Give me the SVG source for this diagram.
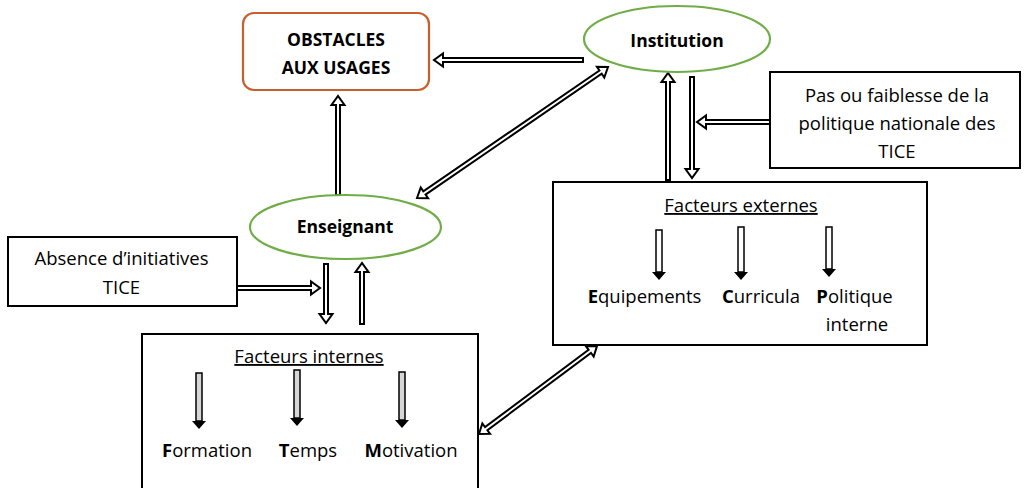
<svg xmlns="http://www.w3.org/2000/svg" width="1026" height="488" viewBox="0 0 1026 488">
<style>
.bg{fill:#ffffff}
.box{fill:#ffffff;stroke:#000000;stroke-width:2}
.obs{fill:#ffffff;stroke:#C65F2C;stroke-width:2.2}
.ell{fill:#ffffff;stroke:#70AD47;stroke-width:2.2}
.t{font-family:"Open Sans","Liberation Sans",sans-serif;font-size:18.5px;fill:#000000;text-anchor:middle}
.tb{font-family:"Open Sans","Liberation Sans",sans-serif;font-size:17.5px;font-weight:bold;fill:#000000;text-anchor:middle}
.b{font-weight:bold}
.u{text-decoration:underline}
.conn{fill:#ffffff;stroke:#000000;stroke-width:2;stroke-linejoin:miter}
.sh{fill:#ffffff;stroke:#000000;stroke-width:1.5}
.shg{fill:#d6d6d6;stroke:#000000;stroke-width:1.5}
.hd{fill:#000000}
</style>
<rect class="bg" x="0" y="0" width="1026" height="488"/>

<g id="connectors">
  <path class="conn" transform="translate(583,60) rotate(180)" d="M0,-2 H140 V-6.5 L149,0 L140,6.5 V2 H0 Z"/>
  <path class="conn" transform="translate(338,195) rotate(-90)" d="M0,-2 H90 V-6.5 L99,0 L90,6.5 V2 H0 Z"/>
  <path class="conn" transform="translate(417,198) rotate(-34.44)" d="M0,0 L9,-6.5 V-2 H222.6 V-6.5 L231.6,0 L222.6,6.5 V2 H9 V6.5 Z"/>
  <path class="conn" transform="translate(237,288)" d="M0,-2 H74 V-6.5 L83,0 L74,6.5 V2 H0 Z"/>
  <path class="conn" transform="translate(326,264) rotate(90)" d="M0,-2 H50 V-6.5 L59,0 L50,6.5 V2 H0 Z"/>
  <path class="conn" transform="translate(362,324) rotate(-90)" d="M0,-2 H52 V-6.5 L61,0 L52,6.5 V2 H0 Z"/>
  <path class="conn" transform="translate(479,434) rotate(-36.71)" d="M0,0 L9,-6.5 V-2 H138.2 V-6.5 L147.2,0 L138.2,6.5 V2 H9 V6.5 Z"/>
  <path class="conn" transform="translate(668,180) rotate(-90)" d="M0,-2 H98 V-6.5 L107,0 L98,6.5 V2 H0 Z"/>
  <path class="conn" transform="translate(692,77) rotate(90)" d="M0,-2 H92 V-6.5 L101,0 L92,6.5 V2 H0 Z"/>
  <path class="conn" transform="translate(770,122) rotate(180)" d="M0,-2 H64 V-6.5 L73,0 L64,6.5 V2 H0 Z"/>
</g>

<g id="obstacles">
  <rect class="obs" x="243" y="13" width="186" height="77" rx="11" ry="11"/>
  <text class="tb" x="336" y="46">OBSTACLES</text>
  <text class="tb" x="336" y="74">AUX USAGES</text>
</g>

<g id="institution">
  <ellipse class="ell" cx="677" cy="39" rx="93" ry="33"/>
  <text class="tb" x="677" y="47">Institution</text>
</g>

<g id="enseignant">
  <ellipse class="ell" cx="345.5" cy="227" rx="95.5" ry="32"/>
  <text class="tb" x="345" y="233">Enseignant</text>
</g>

<g id="absence">
  <rect class="box" x="8" y="237" width="229" height="69"/>
  <text class="t" x="121.5" y="265">Absence d’initiatives</text>
  <text class="t" x="121.5" y="294">TICE</text>
</g>

<g id="politique-nationale">
  <rect class="box" x="770" y="72" width="250" height="96"/>
  <text class="t" x="897" y="102">Pas ou faiblesse de la</text>
  <text class="t" x="897" y="130">politique nationale des</text>
  <text class="t" x="897" y="158">TICE</text>
</g>

<g id="facteurs-externes">
  <rect class="box" x="553" y="182" width="374" height="163"/>
  <text class="t u" x="741" y="212">Facteurs externes</text>
  <g transform="translate(659,230)"><rect class="sh" x="-3" y="0" width="6" height="42"/><polygon class="hd" points="-7,42 7,42 0,50"/></g>
  <g transform="translate(741,227)"><rect class="sh" x="-3" y="0" width="6" height="45"/><polygon class="hd" points="-7,45 7,45 0,53"/></g>
  <g transform="translate(829,227)"><rect class="sh" x="-3" y="0" width="6" height="42"/><polygon class="hd" points="-7,42 7,42 0,50"/></g>
  <text class="t" x="644.5" y="303"><tspan class="b">E</tspan>quipements</text>
  <text class="t" x="761" y="303"><tspan class="b">C</tspan>urricula</text>
  <text class="t" x="854.5" y="303"><tspan class="b">P</tspan>olitique</text>
  <text class="t" x="857" y="331">interne</text>
</g>

<g id="facteurs-internes">
  <rect class="box" x="142" y="334" width="336" height="170"/>
  <text class="t u" x="309" y="363">Facteurs internes</text>
  <g transform="translate(199,373)"><rect class="shg" x="-3" y="0" width="6" height="48"/><polygon class="hd" points="-7,48 7,48 0,56"/></g>
  <g transform="translate(297,370)"><rect class="shg" x="-3" y="0" width="6" height="48"/><polygon class="hd" points="-7,48 7,48 0,56"/></g>
  <g transform="translate(402,372)"><rect class="shg" x="-3" y="0" width="6" height="48"/><polygon class="hd" points="-7,48 7,48 0,56"/></g>
  <text class="t" x="207" y="457"><tspan class="b">F</tspan>ormation</text>
  <text class="t" x="308" y="457"><tspan class="b">T</tspan>emps</text>
  <text class="t" x="411" y="457"><tspan class="b">M</tspan>otivation</text>
</g>
</svg>
